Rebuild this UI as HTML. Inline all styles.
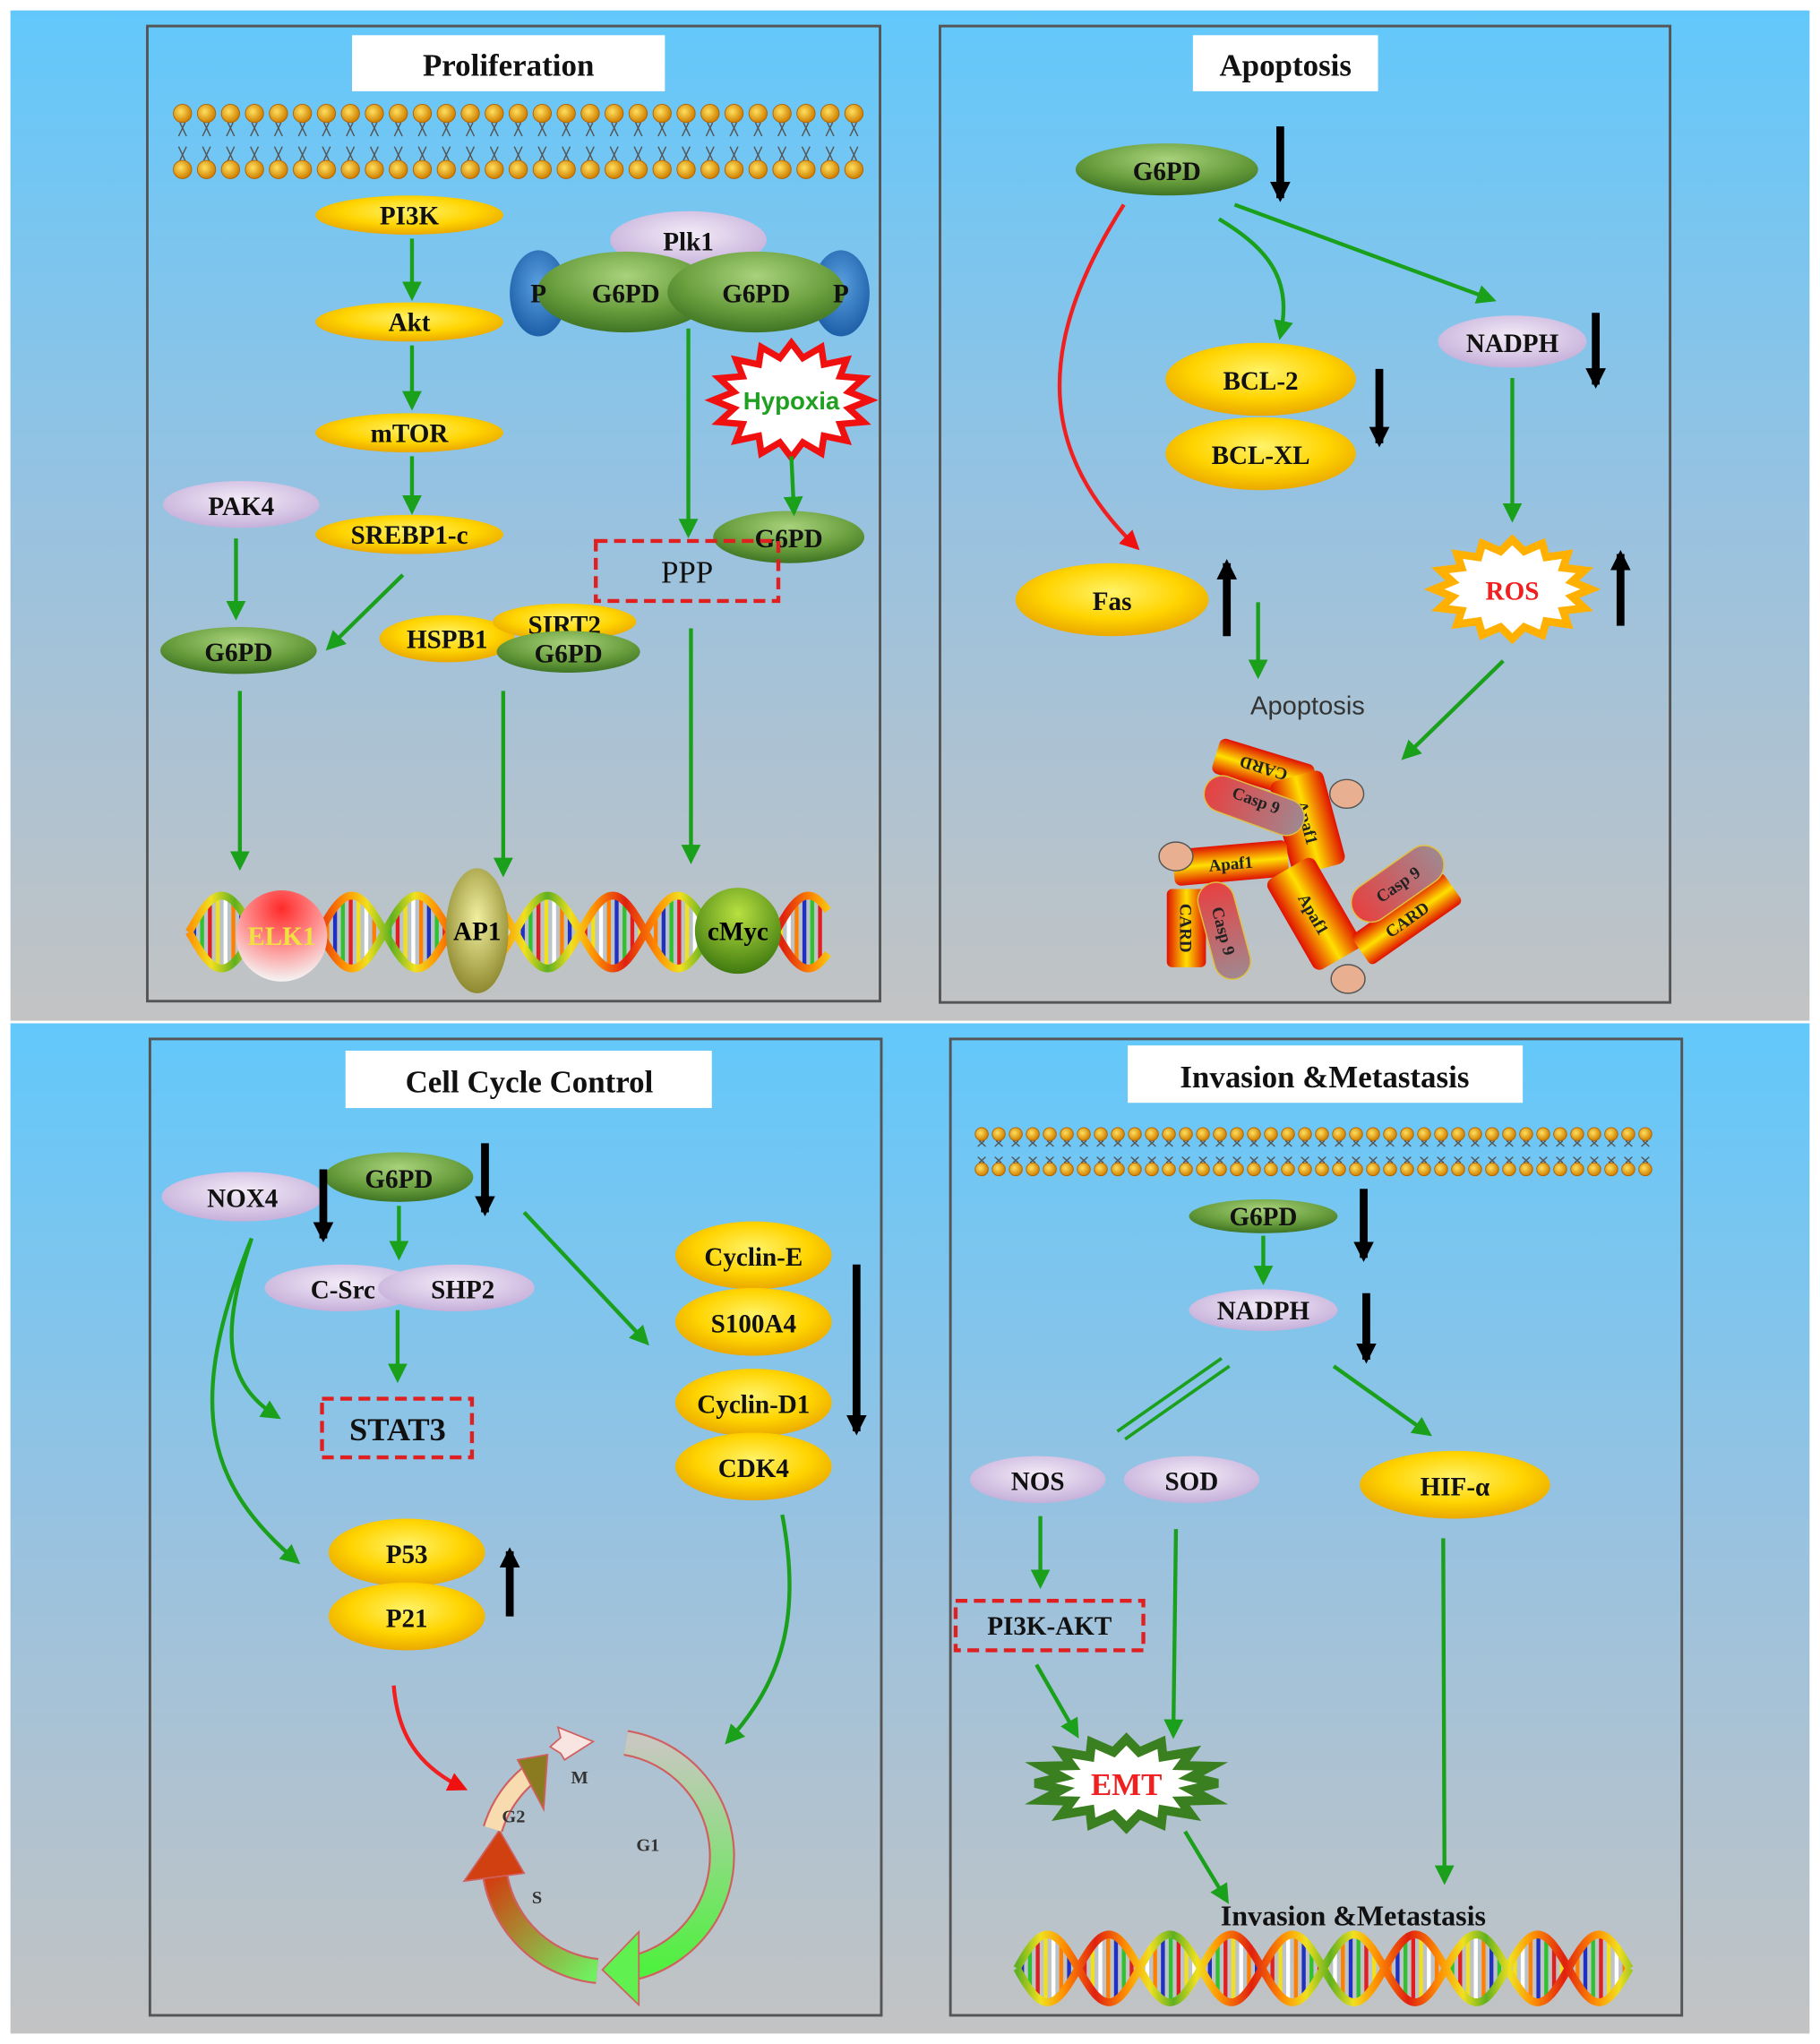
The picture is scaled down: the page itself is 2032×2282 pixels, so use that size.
<!DOCTYPE html>
<html><head><meta charset="utf-8">
<style>
html,body{margin:0;padding:0;background:#fff;}
svg{display:block;}
text{font-family:"Liberation Serif",serif;font-weight:bold;}
</style></head>
<body>
<svg id="s" width="2032" height="2282" viewBox="0 0 1396 1568" preserveAspectRatio="none" xmlns="http://www.w3.org/2000/svg">
<defs>
<linearGradient id="bg" x1="0" y1="0" x2="0" y2="1">
<stop offset="0" stop-color="#62c8fb"/><stop offset="0.5" stop-color="#98c2e0"/><stop offset="1" stop-color="#c3c3c3"/></linearGradient>
<radialGradient id="yel" cx="0.5" cy="0.4" r="0.6"><stop offset="0" stop-color="#fff36a"/><stop offset="0.6" stop-color="#ffd400"/><stop offset="1" stop-color="#eaa800"/></radialGradient>
<radialGradient id="grn" cx="0.5" cy="0.3" r="0.7"><stop offset="0" stop-color="#a9d27d"/><stop offset="0.6" stop-color="#6a9f3e"/><stop offset="1" stop-color="#3f7424"/></radialGradient>
<radialGradient id="pur" cx="0.5" cy="0.4" r="0.6"><stop offset="0" stop-color="#f4ecf8"/><stop offset="1" stop-color="#c6b0da"/></radialGradient>
<radialGradient id="blu" cx="0.5" cy="0.4" r="0.6"><stop offset="0" stop-color="#5aa0e0"/><stop offset="1" stop-color="#1d5fa8"/></radialGradient>
<radialGradient id="elk" cx="0.5" cy="0.2" r="0.8"><stop offset="0" stop-color="#ff2a2a"/><stop offset="0.5" stop-color="#ff8a8a"/><stop offset="1" stop-color="#f4f4f4"/></radialGradient>
<radialGradient id="ap1" cx="0.5" cy="0.4" r="0.6"><stop offset="0" stop-color="#f2f0a0"/><stop offset="1" stop-color="#8f8a30"/></radialGradient>
<radialGradient id="myc" cx="0.5" cy="0.3" r="0.7"><stop offset="0" stop-color="#b8e040"/><stop offset="1" stop-color="#3f7a10"/></radialGradient>
<linearGradient id="dna" x1="0" y1="0" x2="60" y2="0" gradientUnits="userSpaceOnUse" spreadMethod="reflect">
<stop offset="0" stop-color="#e02010"/><stop offset="0.4" stop-color="#ff9000"/><stop offset="0.7" stop-color="#f0e020"/><stop offset="1" stop-color="#60b020"/></linearGradient>
<linearGradient id="bar" x1="0" y1="0" x2="0" y2="1"><stop offset="0" stop-color="#e01000"/><stop offset="0.5" stop-color="#ffe000"/><stop offset="1" stop-color="#e01000"/></linearGradient>
<linearGradient id="casp" x1="0" y1="0" x2="1" y2="0"><stop offset="0" stop-color="#e84040"/><stop offset="1" stop-color="#a08890"/></linearGradient>
<linearGradient id="ring" x1="0" y1="0" x2="0" y2="1"><stop offset="0" stop-color="#c8c8c0"/><stop offset="1" stop-color="#50f040"/></linearGradient>
<linearGradient id="ringS" x1="0" y1="0" x2="1" y2="1"><stop offset="0" stop-color="#d04010"/><stop offset="1" stop-color="#70f060"/></linearGradient>
<radialGradient id="mem" cx="0.4" cy="0.4" r="0.6"><stop offset="0" stop-color="#ffe060"/><stop offset="1" stop-color="#d08000"/></radialGradient>
<marker id="ag" viewBox="0 0 10 10" refX="8" refY="5" markerWidth="5" markerHeight="5" orient="auto"><path d="M0,0 L10,5 L0,10 z" fill="#1aa01a"/></marker>
<marker id="ar" viewBox="0 0 10 10" refX="8" refY="5" markerWidth="5" markerHeight="5" orient="auto"><path d="M0,0 L10,5 L0,10 z" fill="#f01010"/></marker>
<marker id="ak" viewBox="0 0 10 10" refX="8" refY="5" markerWidth="2.6" markerHeight="2.6" orient="auto"><path d="M0,0 L10,5 L0,10 z" fill="#000"/></marker>
</defs>
<rect width="1396" height="1568" fill="#fff"/>
<rect x="8" y="8" width="1380" height="775" fill="url(#bg)"/>
<rect x="8" y="785" width="1380" height="775" fill="url(#bg)"/>
<g fill="none" stroke="#555" stroke-width="2">
<rect x="113" y="20" width="562" height="748"/>
<rect x="721" y="20" width="560" height="749"/>
<rect x="115" y="797" width="561" height="749"/>
<rect x="729" y="797" width="561" height="749"/>
</g>
<g fill="#fff">
<rect x="270" y="27" width="240" height="43"/>
<rect x="915" y="27" width="142" height="43"/>
<rect x="265" y="806" width="281" height="44"/>
<rect x="865" y="802" width="303" height="44"/>
</g>
<g font-size="24" text-anchor="middle" fill="#111">
<text x="390" y="58">Proliferation</text>
<text x="986" y="58">Apoptosis</text>
<text x="406" y="838">Cell Cycle Control</text>
<text x="1016" y="834">Invasion &amp;Metastasis</text>
</g>
<g id="mem1"></g>
<g id="dnaG"></g>

<!-- Proliferation -->
<g font-size="20" text-anchor="middle" fill="#111">
<ellipse cx="314" cy="165" rx="72" ry="15" fill="url(#yel)"/><text x="314" y="172">PI3K</text>
<ellipse cx="314" cy="247" rx="72" ry="15" fill="url(#yel)"/><text x="314" y="254">Akt</text>
<ellipse cx="314" cy="332" rx="72" ry="15" fill="url(#yel)"/><text x="314" y="339">mTOR</text>
<ellipse cx="314" cy="410" rx="72" ry="15" fill="url(#yel)"/><text x="314" y="417">SREBP1-c</text>
<ellipse cx="185" cy="387" rx="60" ry="18" fill="url(#pur)"/><text x="185" y="395">PAK4</text>
<ellipse cx="183" cy="499" rx="60" ry="18" fill="url(#grn)"/><text x="183" y="507">G6PD</text>
<ellipse cx="528" cy="184" rx="60" ry="22" fill="url(#pur)"/><text x="528" y="192">Plk1</text>
<ellipse cx="413" cy="225" rx="22" ry="33" fill="url(#blu)"/>
<ellipse cx="645" cy="225" rx="22" ry="33" fill="url(#blu)"/>
<ellipse cx="480" cy="224" rx="68" ry="31" fill="url(#grn)"/>
<ellipse cx="580" cy="224" rx="68" ry="31" fill="url(#grn)"/>
<text x="413" y="232">P</text><text x="645" y="232">P</text>
<text x="480" y="232">G6PD</text><text x="580" y="232">G6PD</text>
<polygon id="hyp" fill="#fff" stroke="#f01010" stroke-width="5" stroke-linejoin="miter"/>
<text x="607" y="314" fill="#20a020" style="font-family:'Liberation Sans',sans-serif" font-size="19">Hypoxia</text>
<ellipse cx="605" cy="412" rx="58" ry="20" fill="url(#grn)"/><text x="605" y="420">G6PD</text>
<rect x="457" y="415" width="140" height="46" fill="none" stroke="#e02020" stroke-width="3" stroke-dasharray="9,5"/>
<text x="527" y="447" style="font-weight:normal" font-size="24">PPP</text>
<ellipse cx="343" cy="490" rx="52" ry="18" fill="url(#yel)"/><text x="343" y="497">HSPB1</text>
<ellipse cx="433" cy="477" rx="55" ry="14" fill="url(#yel)"/><text x="433" y="486">SIRT2</text>
<ellipse cx="436" cy="500" rx="55" ry="16" fill="url(#grn)"/><text x="436" y="508">G6PD</text>
</g>
<g stroke="#1aa01a" stroke-width="3" fill="none" marker-end="url(#ag)">
<line x1="316" y1="183" x2="316" y2="228"/>
<line x1="316" y1="265" x2="316" y2="312"/>
<line x1="316" y1="350" x2="316" y2="392"/>
<line x1="181" y1="413" x2="181" y2="473"/>
<line x1="309" y1="441" x2="252" y2="497"/>
<line x1="528" y1="252" x2="528" y2="410"/>
<line x1="607" y1="350" x2="609" y2="393"/>
<line x1="184" y1="530" x2="184" y2="665"/>
<line x1="386" y1="530" x2="386" y2="670"/>
<line x1="530" y1="482" x2="530" y2="660"/>
</g>
<g font-size="20" text-anchor="middle">
<circle cx="216" cy="718" r="35" fill="url(#elk)"/><text x="216" y="725" fill="#f0e040">ELK1</text>
<ellipse cx="366" cy="714" rx="24" ry="48" fill="url(#ap1)"/><text x="366" y="721">AP1</text>
<circle cx="566" cy="714" r="33" fill="url(#myc)"/><text x="566" y="721">cMyc</text>
</g>

<!-- Apoptosis -->
<g font-size="20" text-anchor="middle" fill="#111">
<ellipse cx="895" cy="130" rx="70" ry="20" fill="url(#grn)"/><text x="895" y="138">G6PD</text>
<ellipse cx="1160" cy="262" rx="57" ry="20" fill="url(#pur)"/><text x="1160" y="270">NADPH</text>
<ellipse cx="967" cy="291" rx="73" ry="28" fill="url(#yel)"/><text x="967" y="299">BCL-2</text>
<ellipse cx="967" cy="348" rx="73" ry="28" fill="url(#yel)"/><text x="967" y="356">BCL-XL</text>
<ellipse cx="853" cy="460" rx="74" ry="28" fill="url(#yel)"/><text x="853" y="468">Fas</text>
<polygon id="ros" fill="#fff" stroke="#ffb000" stroke-width="6"/>
<text x="1160" y="460" fill="#f02020">ROS</text>
<text x="1003" y="548" style="font-family:'Liberation Sans',sans-serif;font-weight:normal" fill="#333">Apoptosis</text>
</g>
<g stroke="#000" stroke-width="6" marker-end="url(#ak)">
<line x1="982" y1="97" x2="982" y2="152"/>
<line x1="1224" y1="240" x2="1224" y2="295"/>
<line x1="1058" y1="283" x2="1058" y2="340"/>
<line x1="941" y1="488" x2="941" y2="432"/>
<line x1="1243" y1="480" x2="1243" y2="425"/>
</g>
<path d="M862,157 C790,270 800,350 872,420" stroke="#f02020" stroke-width="3" fill="none" marker-end="url(#ar)"/>
<g stroke="#1aa01a" stroke-width="3" fill="none" marker-end="url(#ag)">
<path d="M935,168 C980,195 990,220 982,258"/>
<line x1="947" y1="157" x2="1145" y2="230"/>
<line x1="1160" y1="290" x2="1160" y2="398"/>
<line x1="965" y1="462" x2="965" y2="518"/>
<line x1="1153" y1="507" x2="1077" y2="581"/>
</g>
<!-- apoptosome -->
<g font-size="13" text-anchor="middle" fill="#222" stroke-linejoin="round">
<g transform="translate(969,590) rotate(197)"><rect x="-38" y="-14" width="76" height="28" rx="5" fill="url(#bar)"/><text y="5">CARD</text></g>
<g transform="translate(1003,631) rotate(75)"><rect x="-37" y="-21" width="74" height="42" rx="6" fill="url(#bar)"/><text y="5">Apaf1</text></g>
<g transform="translate(962,618) rotate(20)"><rect x="-40" y="-14" width="80" height="28" rx="14" fill="url(#casp)" stroke="#e0c040"/><text y="0">Casp 9</text></g>
<g transform="translate(944,662) rotate(-5)"><rect x="-44" y="-14" width="88" height="28" rx="5" fill="url(#bar)"/><text y="5">Apaf1</text></g>
<g transform="translate(1008,701) rotate(60)"><rect x="-40" y="-21" width="80" height="42" rx="6" fill="url(#bar)"/><text y="5">Apaf1</text></g>
<g transform="translate(910,712) rotate(90)"><rect x="-30" y="-15" width="60" height="30" rx="4" fill="url(#bar)"/><text y="5">CARD</text></g>
<g transform="translate(939,714) rotate(75)"><rect x="-38" y="-14" width="76" height="28" rx="14" fill="url(#casp)" stroke="#e0c040"/><text y="5">Casp 9</text></g>
<g transform="translate(1079,705) rotate(-35)"><rect x="-43" y="-14" width="86" height="28" rx="4" fill="url(#bar)"/><text y="5">CARD</text></g>
<g transform="translate(1072,678) rotate(-35)"><rect x="-40" y="-15" width="80" height="30" rx="15" fill="url(#casp)" stroke="#e0c040"/><text y="5">Casp 9</text></g>
<ellipse cx="1033" cy="609" rx="13" ry="11" fill="#e8b090" stroke="#555"/>
<ellipse cx="902" cy="657" rx="13" ry="11" fill="#e8b090" stroke="#555"/>
<ellipse cx="1034" cy="751" rx="13" ry="11" fill="#e8b090" stroke="#555"/>
</g>

<!-- Cell cycle -->
<g font-size="20" text-anchor="middle" fill="#111">
<ellipse cx="186" cy="918" rx="62" ry="19" fill="url(#pur)"/><text x="186" y="926">NOX4</text>
<ellipse cx="306" cy="903" rx="57" ry="19" fill="url(#grn)"/><text x="306" y="911">G6PD</text>
<ellipse cx="263" cy="988" rx="60" ry="18" fill="url(#pur)"/>
<ellipse cx="350" cy="988" rx="60" ry="18" fill="url(#pur)"/>
<text x="263" y="996">C-Src</text><text x="355" y="996">SHP2</text>
<rect x="247" y="1073" width="115" height="45" fill="none" stroke="#e02020" stroke-width="3" stroke-dasharray="9,5"/>
<text x="305" y="1105" font-size="25">STAT3</text>
<ellipse cx="578" cy="963" rx="60" ry="26" fill="url(#yel)"/><text x="578" y="971">Cyclin-E</text>
<ellipse cx="578" cy="1014" rx="60" ry="26" fill="url(#yel)"/><text x="578" y="1022">S100A4</text>
<ellipse cx="578" cy="1076" rx="60" ry="26" fill="url(#yel)"/><text x="578" y="1084">Cyclin-D1</text>
<ellipse cx="578" cy="1125" rx="60" ry="26" fill="url(#yel)"/><text x="578" y="1133">CDK4</text>
<ellipse cx="312" cy="1191" rx="60" ry="26" fill="url(#yel)"/><text x="312" y="1199">P53</text>
<ellipse cx="312" cy="1240" rx="60" ry="26" fill="url(#yel)"/><text x="312" y="1248">P21</text>
</g>
<g stroke="#000" stroke-width="6" marker-end="url(#ak)">
<line x1="248" y1="897" x2="248" y2="950"/>
<line x1="372" y1="877" x2="372" y2="930"/>
<line x1="657" y1="970" x2="657" y2="1098"/>
<line x1="391" y1="1240" x2="391" y2="1190"/>
</g>
<g stroke="#1aa01a" stroke-width="3" fill="none" marker-end="url(#ag)">
<line x1="306" y1="925" x2="306" y2="964"/>
<line x1="305" y1="1005" x2="305" y2="1058"/>
<line x1="402" y1="930" x2="496" y2="1030"/>
<path d="M193,950 C170,1020 170,1060 213,1087"/>
<path d="M193,950 C140,1080 160,1140 228,1198"/>
<path d="M600,1162 C615,1240 600,1290 558,1336"/>
</g>
<path d="M302,1293 C305,1330 320,1355 356,1372" stroke="#f02020" stroke-width="3" fill="none" marker-end="url(#ar)"/>
<!-- cell cycle ring: center 465,1424 r 88 -->
<g stroke="#d06060" stroke-width="1.2">
<path d="M480,1337 A88,88 0 0 1 488,1509" fill="none" stroke="#d06060" stroke-width="20"/>
<path d="M480,1337 A88,88 0 0 1 488,1509" fill="none" stroke="url(#ring)" stroke-width="17"/>
<path d="M490,1482 L490,1538 L462,1511 Z" fill="#60f050"/>
<path d="M458,1512 A88,88 0 0 1 380,1440" fill="none" stroke="#d06060" stroke-width="20"/>
<path d="M458,1512 A88,88 0 0 1 380,1440" fill="none" stroke="url(#ringS)" stroke-width="17"/>
<path d="M356,1443 L402,1437 L383,1404 Z" fill="#d04010"/>
<path d="M378,1403 A88,88 0 0 1 405,1362" fill="none" stroke="#d06060" stroke-width="16"/>
<path d="M378,1403 A88,88 0 0 1 405,1362" fill="none" stroke="#f8dcb0" stroke-width="13"/>
<path d="M397,1350 L420,1346 L417,1388 Z" fill="#8a7a20"/>
<path d="M422,1340 L430,1333 L428,1325 L455,1336 L433,1350 L430,1345 Z" fill="#f8e4e0"/>
</g>
<g style="font-family:'Liberation Sans',sans-serif;font-weight:normal" font-size="14" fill="#333">
<text x="438" y="1368">M</text><text x="385" y="1398">G2</text><text x="488" y="1420">G1</text><text x="408" y="1460">S</text>
</g>

<!-- Invasion -->
<g id="mem2"></g>
<g font-size="20" text-anchor="middle" fill="#111">
<ellipse cx="969" cy="933" rx="57" ry="13" fill="url(#grn)"/><text x="969" y="940">G6PD</text>
<ellipse cx="969" cy="1005" rx="57" ry="16" fill="url(#pur)"/><text x="969" y="1012">NADPH</text>
<ellipse cx="796" cy="1135" rx="52" ry="18" fill="url(#pur)"/><text x="796" y="1143">NOS</text>
<ellipse cx="914" cy="1135" rx="52" ry="18" fill="url(#pur)"/><text x="914" y="1143">SOD</text>
<ellipse cx="1116" cy="1139" rx="73" ry="26" fill="url(#yel)"/><text x="1116" y="1147">HIF-α</text>
<rect x="733" y="1228" width="144" height="38" fill="none" stroke="#e02020" stroke-width="3" stroke-dasharray="9,5"/>
<text x="805" y="1254">PI3K-AKT</text>
<polygon id="emt" fill="#fff" stroke="#3a8020" stroke-width="7"/>
<text x="864" y="1377" fill="#f02020" font-size="24">EMT</text>
<text x="1038" y="1477" font-size="22">Invasion &amp;Metastasis</text>
</g>
<g stroke="#000" stroke-width="6" marker-end="url(#ak)">
<line x1="1046" y1="912" x2="1046" y2="965"/>
<line x1="1048" y1="992" x2="1048" y2="1043"/>
</g>
<g stroke="#1aa01a" stroke-width="2.5"><line x1="937" y1="1042" x2="857" y2="1098"/><line x1="943" y1="1048" x2="863" y2="1104"/></g>
<g stroke="#1aa01a" stroke-width="3" fill="none" marker-end="url(#ag)">
<line x1="969" y1="948" x2="969" y2="983"/>
<line x1="1023" y1="1048" x2="1096" y2="1100"/>
<line x1="798" y1="1163" x2="798" y2="1216"/>
<line x1="795" y1="1277" x2="826" y2="1331"/>
<line x1="902" y1="1173" x2="900" y2="1331"/>
<line x1="909" y1="1405" x2="941" y2="1458"/>
<line x1="1107" y1="1180" x2="1108" y2="1443"/>
</g>
</svg>
<script>
var NS="http://www.w3.org/2000/svg";
function el(p,t,a){var e=document.createElementNS(NS,t);for(var k in a)e.setAttribute(k,a[k]);p.appendChild(e);return e;}
function star(id,cx,cy,rx,ry,n,k){var p=[];for(var i=0;i<2*n;i++){var a=Math.PI*i/n;var f=i%2?k:1;p.push((cx+rx*f*Math.cos(a)).toFixed(1)+","+(cy+ry*f*Math.sin(a)).toFixed(1));}document.getElementById(id).setAttribute("points",p.join(" "));}
star("hyp",607,307,60,44,16,0.75);
star("ros",1160,452,60,38,16,0.78);
star("emt",864,1368,70,34,16,0.72);
function mem(id,x0,x1,yt,yb,r){var g=document.getElementById(id);var n=Math.round((x1-x0)/(r*2.6));var dx=(x1-x0)/n;
for(var i=0;i<=n;i++){var x=x0+i*dx;var m1=yt+(yb-yt)*0.5;
el(g,"path",{d:"M"+(x-2)+","+(yt+r)+" L"+(x+3)+","+(m1-4)+" M"+(x+2)+","+(yt+r)+" L"+(x-3)+","+(m1-4)+" M"+(x-2)+","+(yb-r)+" L"+(x+3)+","+(m1+4)+" M"+(x+2)+","+(yb-r)+" L"+(x-3)+","+(m1+4),stroke:"#555","stroke-width":1,fill:"none"});
el(g,"circle",{cx:x,cy:yt,r:r,fill:"url(#mem)",stroke:"#b06000","stroke-width":0.6});
el(g,"circle",{cx:x,cy:yb,r:r,fill:"url(#mem)",stroke:"#b06000","stroke-width":0.6});}}
mem("mem1",140,655,87,130,7);
mem("mem2",753,1262,870,897,5);
function dna(x0,x1,yc,A,P){var g=document.getElementById("dnaG");var cols=["#2030c0","#30c030","#e02020","#f0e020","#ffffff","#ff8000"];
for(var x=x0+4,i=0;x<x1;x+=6,i++){var y1=yc+A*Math.sin(2*Math.PI*(x-x0)/P),y2=yc-A*Math.sin(2*Math.PI*(x-x0)/P);
if(Math.abs(y1-y2)>6)el(g,"line",{x1:x,y1:y1,x2:x,y2:y2,stroke:cols[i%6],"stroke-width":3});}
for(var s=0;s<2;s++){var d="";for(var x=x0;x<=x1;x+=2){var y=yc+(s?-1:1)*A*Math.sin(2*Math.PI*(x-x0)/P);d+=(x==x0?"M":"L")+x+","+y.toFixed(1);}
el(g,"path",{d:d,stroke:"url(#dna)","stroke-width":6,fill:"none"});}}
dna(145,635,715,28,100);
dna(780,1250,1510,26,94);
</script>
</body></html>
